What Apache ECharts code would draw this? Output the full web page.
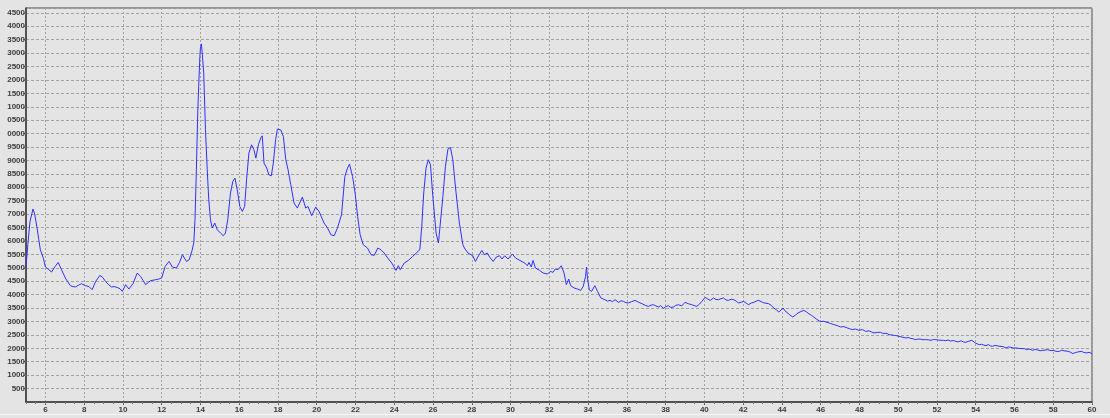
<!DOCTYPE html>
<html>
<head>
<meta charset="utf-8">
<script src="https://cdn.jsdelivr.net/npm/echarts@6/dist/echarts.min.js"></script>
<style>
  html, body { margin: 0; padding: 0; background: #e4e4e4; }
  #chart { width: 1110px; height: 418px; }
</style>
</head>
<body>
<div id="chart"></div>
<script>
// Diffraction scan: 2θ (degrees) and measured intensity (counts)
const twoTheta = [
  5.00, 5.10, 5.20, 5.36, 5.45, 5.57, 5.66, 5.74, 5.80, 5.90, 6.00, 6.15, 6.32, 6.50, 6.66, 6.85,
  7.03, 7.15, 7.29, 7.42, 7.55, 7.70, 7.86, 8.07, 8.25, 8.41, 8.60, 8.81, 8.95, 9.10, 9.25, 9.41,
  9.55, 9.70, 9.85, 9.97, 10.14, 10.31, 10.52, 10.74, 10.91, 11.05, 11.17, 11.30, 11.43, 11.69, 11.85, 12.00,
  12.18, 12.38, 12.55, 12.76, 12.92, 13.07, 13.28, 13.42, 13.57, 13.66, 13.72, 13.79, 13.86, 13.91, 13.97, 14.00,
  14.05, 14.10, 14.17, 14.26, 14.35, 14.43, 14.52, 14.61, 14.74, 14.87, 15.04, 15.18, 15.29, 15.41, 15.55, 15.67,
  15.78, 15.90, 16.03, 16.16, 16.28, 16.38, 16.50, 16.64, 16.76, 16.86, 16.99, 17.11, 17.19, 17.28, 17.42, 17.53,
  17.66, 17.76, 17.88, 17.97, 18.06, 18.14, 18.28, 18.40, 18.52, 18.66, 18.83, 19.00, 19.09, 19.26, 19.43, 19.55,
  19.74, 19.95, 20.12, 20.38, 20.56, 20.73, 20.90, 21.07, 21.28, 21.45, 21.59, 21.69, 21.85, 21.98, 22.11, 22.24,
  22.40, 22.62, 22.80, 22.97, 23.15, 23.31, 23.48, 23.66, 23.87, 24.09, 24.21, 24.31, 24.42, 24.52, 24.62, 24.73,
  24.95, 25.17, 25.32, 25.42, 25.52, 25.64, 25.76, 25.87, 25.99, 26.16, 26.28, 26.38, 26.51, 26.64, 26.77, 26.90,
  27.02, 27.19, 27.36, 27.54, 27.62, 27.80, 27.88, 28.05, 28.19, 28.35, 28.52, 28.66, 28.80, 28.92, 29.10, 29.27,
  29.43, 29.56, 29.70, 29.87, 29.96, 30.09, 30.26, 30.48, 30.73, 30.87, 30.95, 31.07, 31.16, 31.28, 31.50, 31.68,
  31.90, 32.07, 32.19, 32.31, 32.45, 32.62, 32.76, 32.88, 33.00, 33.10, 33.28, 33.45, 33.62, 33.75, 33.87, 33.92,
  33.97, 34.06, 34.18, 34.35, 34.49, 34.66, 34.87, 35.00, 35.13, 35.26, 35.39, 35.57, 35.70, 35.83, 35.95, 36.08,
  36.25, 36.43, 36.60, 36.78, 36.95, 37.11, 37.25, 37.37, 37.50, 37.63, 37.75, 37.89, 38.00, 38.14, 38.27, 38.40,
  38.53, 38.66, 38.83, 39.00, 39.18, 39.35, 39.48, 39.61, 39.75, 39.87, 40.04, 40.17, 40.30, 40.47, 40.60, 40.73,
  40.86, 40.99, 41.12, 41.25, 41.38, 41.51, 41.64, 41.77, 41.90, 42.03, 42.16, 42.29, 42.42, 42.55, 42.68, 42.80,
  42.93, 43.05, 43.18, 43.32, 43.45, 43.58, 43.72, 43.84, 43.95, 44.06, 44.16, 44.26, 44.40, 44.56, 44.70, 44.83,
  44.98, 45.13, 45.26, 45.39, 45.52, 45.64, 45.80, 45.99, 46.15, 46.33, 46.50, 46.68, 46.85, 47.02, 47.12, 47.20,
  47.28, 47.37, 47.50, 47.63, 47.72, 47.80, 47.88, 47.97, 48.06, 48.15, 48.24, 48.32, 48.41, 48.50, 48.62, 48.75,
  48.85, 48.95, 49.09, 49.20, 49.30, 49.42, 49.53, 49.66, 49.80, 49.92, 50.04, 50.20, 50.39, 50.52, 50.65, 50.78,
  50.90, 51.02, 51.15, 51.28, 51.42, 51.56, 51.70, 51.82, 51.94, 52.07, 52.20, 52.33, 52.46, 52.58, 52.70, 52.84,
  52.97, 53.10, 53.25, 53.37, 53.49, 53.62, 53.80, 53.90, 54.00, 54.18, 54.30, 54.42, 54.53, 54.65, 54.76, 54.87,
  55.00, 55.10, 55.20, 55.30, 55.43, 55.56, 55.68, 55.80, 55.94, 56.08, 56.20, 56.30, 56.40, 56.51, 56.62, 56.75,
  56.85, 56.94, 57.07, 57.20, 57.33, 57.46, 57.58, 57.70, 57.80, 57.89, 58.00, 58.10, 58.20, 58.32, 58.44, 58.55,
  58.65, 58.75, 58.88, 59.01, 59.13, 59.25, 59.35, 59.44, 59.57, 59.70, 59.85, 60.00
];

const intensity = [
  5050, 5900, 6700, 7190, 7000, 6480, 6050, 5675, 5610, 5350, 5030, 4950, 4843, 5050, 5200, 4900,
  4620, 4480, 4334, 4300, 4285, 4350, 4408, 4334, 4300, 4185, 4500, 4717, 4650, 4494, 4380, 4285,
  4300, 4270, 4220, 4121, 4371, 4210, 4408, 4806, 4680, 4520, 4371, 4450, 4520, 4557, 4580, 4620,
  5052, 5238, 5030, 4993, 5200, 5488, 5238, 5301, 5650, 5950, 6800, 8652, 10763, 11754, 12871, 13183,
  13343, 12934, 12253, 10141, 8652, 7535, 6790, 6482, 6668, 6418, 6294, 6195, 6294, 6790, 7785, 8217,
  8343, 7908, 7286, 7100, 7286, 8280, 9274, 9583, 9397, 9088, 9583, 9832, 9918, 8902, 8716, 8466,
  8430, 8902, 9770, 10168, 10200, 10140, 9892, 9050, 8652, 8100, 7413, 7226, 7226, 7636, 7226, 7286,
  6940, 7263, 7100, 6668, 6482, 6232, 6195, 6482, 6977, 8403, 8716, 8865, 8403, 7785, 6914, 6232,
  5860, 5737, 5488, 5462, 5737, 5674, 5551, 5365, 5179, 4904, 5078, 4929, 5060, 5179, 5130, 5276,
  5425, 5573, 5674, 6542, 7785, 8716, 9025, 8839, 7659, 6294, 5923, 5983, 7659, 8778, 9424, 9484,
  9025, 7785, 6668, 5860, 5737, 5551, 5525, 5450, 5238, 5450, 5648, 5488, 5551, 5402, 5238, 5402,
  5450, 5328, 5450, 5328, 5276, 5514, 5365, 5276, 5179, 5078, 5201, 5030, 5276, 4993, 4904, 4806,
  4769, 4866, 4829, 4955, 4929, 5078, 4806, 4371, 4583, 4334, 4248, 4211, 4159, 4308, 4680, 5030,
  4620, 4185, 4121, 4334, 4121, 3875, 3812, 3760, 3786, 3740, 3812, 3712, 3770, 3749, 3700, 3690,
  3740, 3786, 3720, 3663, 3600, 3563, 3610, 3626, 3580, 3541, 3590, 3489, 3550, 3589, 3520, 3541,
  3600, 3626, 3580, 3712, 3660, 3626, 3590, 3563, 3650, 3749, 3898, 3840, 3786, 3875, 3820, 3812,
  3850, 3875, 3800, 3786, 3830, 3812, 3760, 3690, 3720, 3749, 3680, 3626, 3690, 3712, 3760, 3786,
  3740, 3700, 3680, 3663, 3600, 3503, 3430, 3354, 3420, 3503, 3400, 3339, 3250, 3168, 3240, 3317,
  3370, 3414, 3360, 3291, 3230, 3168, 3080, 2993, 3010, 2967, 2930, 2882, 2850, 2796, 2830, 2810,
  2760, 2759, 2730, 2695, 2740, 2720, 2690, 2670, 2720, 2700, 2660, 2632, 2680, 2650, 2610, 2573,
  2600, 2595, 2595, 2560, 2540, 2555, 2510, 2500, 2480, 2470, 2446, 2420, 2386, 2400, 2370, 2350,
  2323, 2345, 2340, 2320, 2323, 2315, 2300, 2330, 2323, 2310, 2300, 2295, 2286, 2310, 2270, 2290,
  2260, 2240, 2280, 2235, 2223, 2260, 2297, 2230, 2190, 2137, 2150, 2120, 2100, 2140, 2090, 2074,
  2110, 2120, 2080, 2137, 2060, 2014, 2050, 2040, 2010, 2014, 2000, 2020, 1990, 1990, 1951, 1975,
  1960, 1925, 1960, 1940, 1910, 1925, 1935, 1950, 1905, 1914, 1920, 1900, 1880, 1888, 1930, 1910,
  1860, 1888, 1860, 1802, 1840, 1860, 1900, 1888, 1850, 1828, 1850, 1802
];

// Axis settings
const xLabelValues = [6, 8, 10, 12, 14, 16, 18, 20, 22, 24, 26, 28, 30, 32, 34, 36, 38, 40, 42, 44, 46, 48, 50, 52, 54, 56, 58, 60];
const xMinorStep = 0.5;
const yMax = 14680;
const yStep = 500;

const points = twoTheta.map((t, i) => [t, intensity[i]]);

const chart = echarts.init(document.getElementById('chart'), null, { renderer: 'canvas' });

const labelFont = {
  fontFamily: '"Liberation Sans", Arial, sans-serif',
  fontSize: 8,
  fontWeight: 'bold',
  color: '#3c3c3c'
};

chart.setOption({
  animation: false,
  backgroundColor: '#e4e4e4',
  grid: {
    left: 26, right: 18, top: 8, bottom: 16,
    show: true,
    borderColor: '#4a4a4a',
    borderWidth: 1,
    backgroundColor: 'transparent'
  },
  graphic: [{
    // thin light separator under the tick labels
    type: 'rect',
    shape: { x: 0, y: 414, width: 1110, height: 1 },
    style: { fill: '#f6f6f6' },
    silent: true
  }],
  xAxis: [{
    type: 'value',
    min: 5,
    max: 60,
    axisLine: { show: true, onZero: false, lineStyle: { color: '#3a3a3a', width: 1.5 } },
    axisTick: { show: true, customValues: xLabelValues, length: 3, lineStyle: { color: '#555' } },
    axisLabel: Object.assign({ customValues: xLabelValues, margin: 4 }, labelFont),
    splitLine: { show: true, lineStyle: { color: '#a2a2a2', width: 1, type: [2, 2] } }
  }, {
    // minor ticks every half degree along the bottom
    type: 'value',
    position: 'bottom',
    min: 5,
    max: 60,
    interval: xMinorStep,
    axisLine: { show: false },
    axisTick: { show: true, length: 2, lineStyle: { color: '#777' } },
    axisLabel: { show: false },
    splitLine: { show: false }
  }],
  yAxis: {
    type: 'value',
    min: 0,
    max: yMax,
    interval: yStep,
    axisLine: { show: true, onZero: false, lineStyle: { color: '#3a3a3a', width: 1.5 } },
    axisTick: { show: true, length: 3, lineStyle: { color: '#8a6a50' } },
    axisLabel: Object.assign({
      margin: 1,
      showMinLabel: false,
      showMaxLabel: false,
      // four-character label field
      formatter: v => String(v).slice(-4)
    }, labelFont),
    splitLine: { show: true, lineStyle: { color: '#a2a2a2', width: 1, type: [3, 2] } }
  },
  series: [{
    type: 'line',
    xAxisIndex: 0,
    data: points,
    showSymbol: false,
    symbol: 'none',
    lineStyle: { color: '#3030ff', width: 1 },
    clip: true
  }]
});
</script>
</body>
</html>
